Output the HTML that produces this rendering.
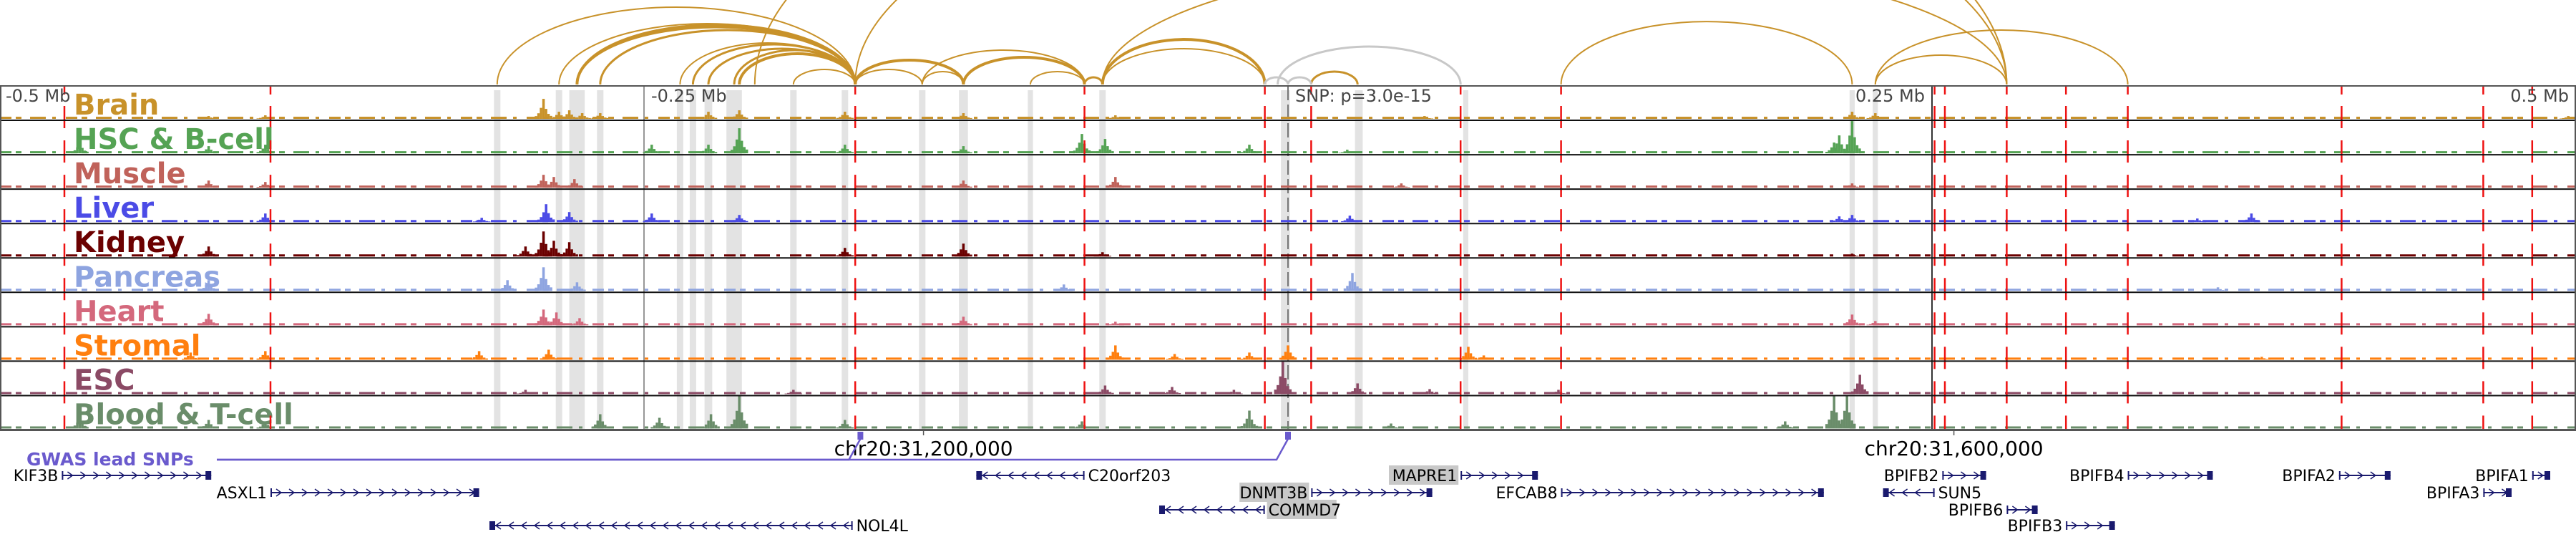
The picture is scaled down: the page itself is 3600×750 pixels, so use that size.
<!DOCTYPE html>
<html><head><meta charset="utf-8"><style>
html,body{margin:0;padding:0;background:#fff;}
svg{display:block;font-family:"DejaVu Sans","Liberation Sans",sans-serif;}
</style></head><body>
<svg id="chart" width="3600" height="750" viewBox="0 0 3600 750" xmlns="http://www.w3.org/2000/svg"></svg>
<script>
// ---- data (kb offsets from lead SNP) ----
const trackNames = ["Brain","HSC & B-cell","Muscle","Liver","Kidney","Pancreas","Heart","Stromal","ESC","Blood & T-cell"];
const trackColors = ["#c8922a","#55a354","#c0625a","#4b4be6","#6b0000","#8ea4e0","#d4687c","#ff7f0e","#8b4a65","#6a8d6a"];
const peaksBrain = [[-289,28],[-283,10],[-279,12],[-274,8],[-267,8],[-225,10],[-213,12],[-172,10],[-126,8],[-67,5],[53,4],[219,10],[228,8],[497,4],[-419,4],[-397,5]];
const peaksHSC = [[-469,15],[-419,10],[-397,12],[-247,12],[-225,12],[-213,35],[-172,12],[-126,10],[-80,27],[-71,20],[-15,12],[23,5],[212,15],[214,25],[219,45]];
const peaksMuscle = [[-289,18],[-285,15],[-277,12],[-419,10],[-397,8],[-126,10],[-67,15],[44,6],[219,6]];
const peaksLiver = [[-288,25],[-279,14],[-313,6],[-397,12],[-247,12],[-213,10],[24,9],[374,12],[353,5],[214,8],[219,10]];
const peaksKidney = [[-289,35],[-285,22],[-279,20],[-296,14],[-419,14],[-172,12],[-126,18],[-72,6],[219,4]];
const peaksPancreas = [[-289,33],[-303,15],[-276,12],[-419,15],[-87,9],[25,25],[361,5]];
const peaksHeart = [[-289,22],[-284,18],[-275,10],[-419,16],[-126,12],[-67,5],[219,15],[228,6]];
const peaksStromal = [[-397,12],[-314,12],[-287,14],[-426,10],[-67,20],[0,20],[-15,10],[-44,8],[70,18],[76,6],[378,4]];
const peaksESC = [[-2,45],[-71,12],[-45,10],[27,15],[55,7],[-21,6],[105,6],[-296,6],[-192,6],[222,27]];
const peaksBlood = [[-469,15],[-419,12],[-267,20],[-244,15],[-224,20],[-213,45],[-172,12],[-397,10],[-15,25],[-80,10],[40,7],[193,10],[212,45],[217,45]];
const trackPeaks = [peaksBrain,peaksHSC,peaksMuscle,peaksLiver,peaksKidney,peaksPancreas,peaksHeart,peaksStromal,peaksESC,peaksBlood];
const redLines = [-475,-395,-168,-79,-9,9,67,106,251,255,279,302,326,409,464,483];
const grayBands = [[-307,2.5],[-283,2.5],[-276,6],[-267,2.5],[-236,2.5],[-231,2.5],[-225,3],[-215,6],[-192,2.5],[-172,2.5],[-142,2.5],[-126,3.5],[-100,2],[-72,2.5],[-1,3.5],[27.5,3],[69,2],[219,2],[228,2]];
const tickLabels = ["-0.5 Mb","-0.25 Mb","0.25 Mb","0.5 Mb"];
const tickPos = [-500,-250,250,500];
const genes = [
 ["KIF3B",-476,-418,1,0,"left",false],["ASXL1",-395,-314,1,1,"left",false],["NOL4L",-310,-169,-1,3,"right",false],
 ["C20orf203",-121,-79,-1,0,"right",false],["DNMT3B",9,56,1,1,"left",true],["COMMD7",-50,-9,-1,2,"right",true],
 ["MAPRE1",67,97,1,0,"left",true],["EFCAB8",106,208,1,1,"left",false],["BPIFB2",254,271,1,0,"left",false],
 ["SUN5",231,251,-1,1,"right",false],["BPIFB6",279,291,1,2,"left",false],["BPIFB3",302,321,1,3,"left",false],
 ["BPIFB4",326,359,1,0,"left",false],["BPIFA2",408,428,1,0,"left",false],["BPIFA3",464,475,1,1,"left",false],["BPIFA1",483,490,1,0,"left",false]];
const arcStart = [-307,-283,-276,-276,-267,-236,-231,-225,-215,-213,-192,-207,-168,-72,-168,-142,-168,-142,-126,-100,-79,-72,-72,9,106,228,228,-9,0,-4];
const arcEnd   = [-168,-168,-168,-168,-168,-168,-168,-168,-168,-168,-168,279,279,279,-142,-126,-126,-79,-79,-79,-72,-9,-9,27,219,326,279,0,9,67];
const arcPeak  = [10,33,35,38,42,60,62,68,70,75,97,-260,-200,-60,97,100,84,70,80,100,108,55,68,100,30,42,77,108,108,65];
const arcWidth = [2,2,4,3,3,2,3,3,3,4,2,2,2,2,2,2,4,2,4,2,3,4,2,3,2,2,2,3,3,3];
const arcGray  = [0,0,0,0,0,0,0,0,0,0,0,0,0,0,0,0,0,0,0,0,0,0,0,0,0,0,0,1,1,1];
const snpPos = [-166,0];
const coordLabels = ["chr20:31,200,000","chr20:31,600,000"];
const coordPos = [-141.5,258.5];

// ---- scales ----
const X = kb => 1800 + kb*3.6;
const top0 = 120, trackH = 48.05;
const svg = document.getElementById('chart');
const NS = "http://www.w3.org/2000/svg";
function mk(tag, attrs, parent){ const e=document.createElementNS(NS,tag); for(const k in attrs) e.setAttribute(k,attrs[k]); (parent||svg).appendChild(e); return e; }

// arcs
const gArcs = mk('g',{});


for(let i=0;i<arcStart.length;i++){
  const x1=X(arcStart[i]), x2=X(arcEnd[i]), base=118;
  const rx=(x2-x1)/2, ry=base-arcPeak[i];
  const p=mk('path',{d:`M${x1},${base} A${rx},${ry} 0 0 1 ${x2},${base}`,fill:'none',stroke:arcGray[i]?'#c8c8c8':'#c8922a','stroke-width':arcWidth[i]},gArcs);
  
  
}

// gray bands
for(const b of grayBands){
  const r=mk('rect',{x:X(b[0])-b[1]*1.8,y:top0+6,width:b[1]*3.6,height:474,fill:'#e3e3e3'});
  
  
}
// guide lines
mk('line',{x1:X(-250),x2:X(-250),y1:top0,y2:600,stroke:'#777','stroke-width':1.5});
mk('line',{x1:X(0),x2:X(0),y1:top0,y2:600,stroke:'#777','stroke-width':2,'stroke-dasharray':'20 6'});
mk('line',{x1:X(250),x2:X(250),y1:top0,y2:600,stroke:'#333','stroke-width':2});

// tracks
for(let t=0;t<trackNames.length;t++){
  const ty=top0+t*trackH, base=ty+trackH-2, col=trackColors[t];
  const g=mk('g',{});
  
  
  mk('line',{x1:0,x2:3600,y1:base-1.5,y2:base-1.5,stroke:col,'stroke-width':3,'stroke-dasharray':'16 6 8 12 22 9 5 14'},g);
  for(const p of trackPeaks[t]){
    const cx=X(p[0]);
    const parts=[[0,1],[-3.5,0.55],[3.5,0.5],[-7,0.28],[7,0.25],[-10.5,0.14],[10.5,0.15]];
    for(const q of parts){
      const h=p[1]*q[1];
      const r=mk('rect',{x:cx+q[0]-1.75,y:base-h,width:3.5,height:h,fill:col},g);
      
      
    }
  }
  const lab=mk('text',{x:103,y:ty+40,'font-size':40,'font-weight':'bold',fill:col},g);
  lab.textContent=trackNames[t];
  
  
  // red dashed lines
  for(const r of redLines){
    if(t==0) mk('line',{x1:X(r),x2:X(r),y1:ty,y2:ty+12,stroke:'#ee1111','stroke-width':2.5},g);
    mk('line',{x1:X(r),x2:X(r),y1:ty+28,y2:Math.min(ty+59,600),stroke:'#ee1111','stroke-width':2.5},g);
  }
  mk('line',{x1:0,x2:3600,y1:ty+trackH,y2:ty+trackH,stroke:t==9?'#555':'#111','stroke-width':t==9?3:2},g);
}
// frame
mk('line',{x1:0,x2:3600,y1:top0,y2:top0,stroke:'#555','stroke-width':2});
mk('line',{x1:1,x2:1,y1:top0,y2:600,stroke:'#555','stroke-width':2});
mk('line',{x1:3599,x2:3599,y1:top0,y2:600,stroke:'#555','stroke-width':2});

// tick labels
for(let i=0;i<tickLabels.length;i++){
  const x=X(tickPos[i]);
  const anchor = i==0||i==1 ? 'start':'end';
  const tx=mk('text',{x:i==0?x+8:(i==1?x+10:x-10),y:142,'font-size':24,fill:'#444','text-anchor':anchor});
  tx.textContent=tickLabels[i];
  
  
}
const snpT=mk('text',{x:X(0)+10,y:142,'font-size':24,fill:'#444'});
snpT.textContent="SNP: p=3.0e-15";



// coordinate labels
for(let i=0;i<coordLabels.length;i++){
  const x=X(coordPos[i]);
  mk('line',{x1:x,x2:x,y1:600,y2:608,stroke:'#555','stroke-width':1.5});
  const tx=mk('text',{x:x,y:636,'font-size':28,fill:'#000','text-anchor':'middle'});
  tx.textContent=coordLabels[i];
  
  
}

// GWAS
const gw=mk('text',{x:37,y:650,'font-size':25,'font-weight':'bold',fill:'#6a5acd'});
gw.textContent="GWAS lead SNPs";


for(const s of snpPos){
  const x=X(s);
  mk('path',{d:`M303,642 L${x-16},642 L${x},613`,fill:'none',stroke:'#6a5acd','stroke-width':2.5});
  const r=mk('rect',{x:x-4,y:603,width:8,height:11,fill:'#6a5acd'});
  
  
}

// genes
const rowY=[664,688,712,734];
for(const g of genes){
  const [name,s,e,strand,row,side,box]=g;
  const x1=X(s),x2=X(e),y=rowY[row];
  const gg=mk('g',{});
  
  
  mk('line',{x1:x1,x2:x2,y1:y,y2:y,stroke:'#1a1a6e','stroke-width':2},gg);
  for(let cx=x1+12;cx<x2-8;cx+=18){
    const d=strand>0?`M${cx-4},${y-5} L${cx+3},${y} L${cx-4},${y+5}`:`M${cx+4},${y-5} L${cx-3},${y} L${cx+4},${y+5}`;
    mk('path',{d:d,fill:'none',stroke:'#1a1a6e','stroke-width':1.5},gg);
  }
  const ex = strand>0? x2-8 : x1;
  mk('rect',{x:ex,y:y-6,width:8,height:12,fill:'#1a1a6e'},gg);
  mk('rect',{x:strand>0?x1:x2-2,y:y-6,width:2,height:12,fill:'#1a1a6e'},gg);
  const lx= side=='left'? x1-3 : x2+3;
  if(box){
    const w=name.length*15.2+6;
    mk('rect',{x:side=='left'?lx-w:lx,y:y-14,width:w,height:27,fill:'#c8c8c8'},gg);
  }
  const t=mk('text',{x:side=='left'?lx-2:lx+2,y:y+8,'font-size':22,fill:'#000','text-anchor':side=='left'?'end':'start'},gg);
  t.textContent=name;
}
</script>
</body></html>
